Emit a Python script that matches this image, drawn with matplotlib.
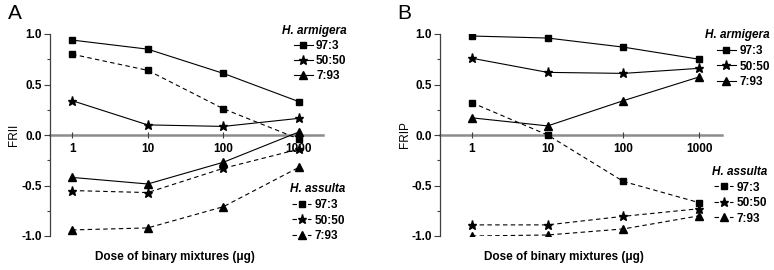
import numpy as np
import matplotlib
matplotlib.use('Agg')
import matplotlib.pyplot as plt
from matplotlib.lines import Line2D

plt.rcParams['font.family'] = ['Liberation Sans', 'DejaVu Sans']
plt.rcParams['axes.unicode_minus'] = False

dose = [1, 10, 100, 1000]
ratios = ['97:3', '50:50', '7:93']
markers = ['s', '*', '^']

# panel A: FRII
frii_armigera = {
    '97:3': [0.94, 0.85, 0.61, 0.33],
    '50:50': [0.34, 0.10, 0.085, 0.165],
    '7:93': [-0.42, -0.485, -0.27, 0.03],
}
frii_assulta = {
    '97:3': [0.80, 0.64, 0.26, -0.04],
    '50:50': [-0.55, -0.57, -0.33, -0.14],
    '7:93': [-0.94, -0.92, -0.71, -0.32],
}

# panel B: FRIP
frip_armigera = {
    '97:3': [0.98, 0.96, 0.87, 0.75],
    '50:50': [0.76, 0.62, 0.61, 0.66],
    '7:93': [0.17, 0.09, 0.34, 0.575],
}
frip_assulta = {
    '97:3': [0.32, 0.0, -0.46, -0.67],
    '50:50': [-0.89, -0.89, -0.805, -0.73],
    '7:93': [-1.0, -0.99, -0.93, -0.80],
}

DASH = (0, (4, 3))
msize = {'s': 4.5, '*': 6.5, '^': 5.5}


def draw_panel(ax, armigera, assulta, ylabel, xlim, ylab_x, xlab_x):
    for r, m in zip(ratios, markers):
        ax.plot(dose, armigera[r], color='black', lw=0.8, marker=m,
                ms=msize[m], zorder=3)
        ax.plot(dose, assulta[r], color='black', lw=0.8, ls=DASH, marker=m,
                ms=msize[m], zorder=3)
    ax.set_xscale('log')
    ax.set_xlim(*xlim)
    ax.set_ylim(-1.0, 1.0)
    ax.spines['top'].set_visible(False)
    ax.spines['right'].set_visible(False)
    ax.spines['bottom'].set_position(('data', 0))
    ax.spines['bottom'].set_color('#8c8c8c')
    ax.spines['bottom'].set_linewidth(1.8)
    ax.spines['bottom'].set_zorder(1)
    ax.spines['left'].set_color('#404040')
    ax.spines['left'].set_linewidth(0.9)

    ax.set_xticks(dose)
    ax.set_xticklabels([str(d) for d in dose], fontweight='bold', fontsize=8.5)
    ax.xaxis.set_minor_locator(matplotlib.ticker.NullLocator())
    ax.tick_params(axis='x', direction='inout', length=5, width=0.8,
                   color='#404040', pad=3)

    ax.set_yticks([-1.0, -0.5, 0.0, 0.5, 1.0])
    ax.set_yticklabels(['-1.0', '-0.5', '0.0', '0.5', '1.0'],
                       fontweight='bold', fontsize=8.5)
    ax.set_yticks([-0.75, -0.25, 0.25, 0.75], minor=True)
    ax.tick_params(axis='y', which='major', length=4, width=0.8,
                   color='#404040', pad=2)
    ax.tick_params(axis='y', which='minor', length=2.5, width=0.8,
                   color='#404040')

    ax.set_ylabel(ylabel, fontsize=8.5)
    ax.yaxis.set_label_coords(ylab_x, 0.5)
    ax.set_xlabel(u'Dose of binary mixtures (\u03bcg)', fontsize=8.5,
                  fontweight='bold')
    ax.xaxis.set_label_coords(xlab_x, -0.075)


def add_legend(fig, title, dashed, anchor, spacing):
    handles = [Line2D([], [], color='black', lw=0.8,
                      ls=DASH if dashed else '-', marker=m, ms=msize[m])
               for m in markers]
    leg = fig.legend(handles, ratios, loc='upper left',
                     bbox_to_anchor=anchor, bbox_transform=fig.transFigure,
                     frameon=False, handlelength=1.6, handletextpad=0.3,
                     labelspacing=spacing, borderpad=0, borderaxespad=0,
                     alignment='right',
                     prop={'weight': 'bold', 'size': 8.5},
                     title=title,
                     title_fontproperties={'weight': 'bold', 'style': 'italic',
                                           'size': 8.5})
    return leg


fig = plt.figure(figsize=(7.74, 2.70), dpi=100)
W, H = 774.0, 270.0

axA = fig.add_axes([50 / W, 34 / H, 273 / W, 202 / H])
draw_panel(axA, frii_armigera, frii_assulta, 'FRII', (0.51, 2080), -0.11, 0.458)

axB = fig.add_axes([440 / W, 34 / H, 282 / W, 202 / H])
draw_panel(axB, frip_armigera, frip_assulta, 'FRIP', (0.38, 2000), -0.103, 0.44)

add_legend(fig, 'H. armigera', False, (282 / W, 1 - 25 / H), 0.25)
add_legend(fig, 'H. assulta', True, (290 / W, 1 - 183 / H), 0.32)
add_legend(fig, 'H. armigera', False, (705 / W, 1 - 29 / H), 0.32)
add_legend(fig, 'H. assulta', True, (712 / W, 1 - 166 / H), 0.3)

fig.text(8 / W, 1 - 4 / H, 'A', fontsize=15, va='top', ha='left')
fig.text(397 / W, 1 - 4 / H, 'B', fontsize=15, va='top', ha='left')

fig.savefig('out.png', dpi=100)
